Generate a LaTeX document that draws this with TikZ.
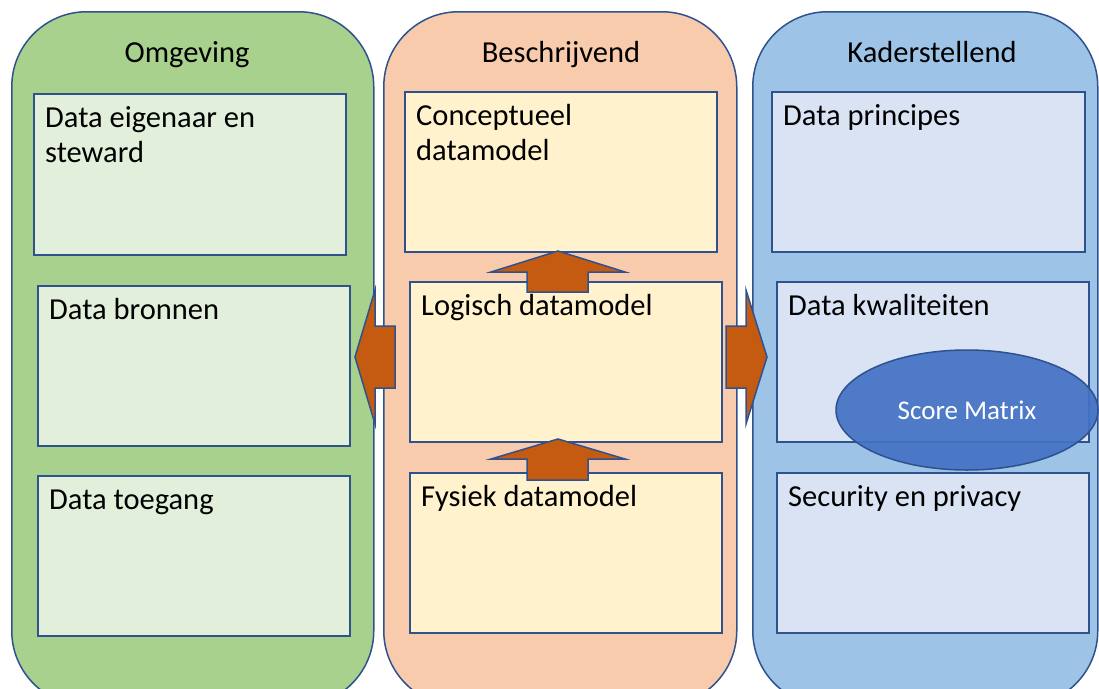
\documentclass[tikz,border=0pt]{standalone}
\usepackage{fontspec}
\setmainfont{Carlito}
\usetikzlibrary{shapes.geometric}
\definecolor{lijn}{HTML}{2F528F}
\definecolor{groenkolom}{HTML}{A9D18E}
\definecolor{groenvak}{HTML}{E2EFDA}
\definecolor{oranjekolom}{HTML}{F8CBAD}
\definecolor{geelvak}{HTML}{FFF2CC}
\definecolor{blauwkolom}{HTML}{9DC3E6}
\definecolor{blauwvak}{HTML}{DAE3F3}
\definecolor{pijlkleur}{HTML}{C55A11}
\definecolor{matrix}{HTML}{4472C4}
\tikzset{
  kolom/.style={draw=lijn,line width=1.5pt,rounded corners=75pt,anchor=north west,minimum height=694pt},
  vak/.style={draw=lijn,line width=1.5pt,anchor=north west,minimum width=312pt,minimum height=160pt},
  kop/.style={font=\fontsize{30.5}{35}\selectfont,anchor=base,inner sep=0pt},
  vaktekst/.style={font=\fontsize{30.5}{35}\selectfont,anchor=base west,inner sep=0pt,align=left},
  pijl/.style={fill=pijlkleur,draw=lijn,line width=1.5pt,line join=miter}
}
\begin{document}
\begin{tikzpicture}[x=1pt,y=-1pt]
\clip (0,0) rectangle (1099,688);
% kolommen
\node[kolom,fill=groenkolom,minimum width=362pt] (omg) at (11,11) {};
\node[kolom,fill=oranjekolom,minimum width=353pt] (bes) at (383,11) {};
\node[kolom,fill=blauwkolom,minimum width=345pt] (kad) at (752,11) {};
\node[kop] (komg) at (187,62) {Omgeving};
\node[kop] (kbes) at (561,62) {Beschrijvend};
\node[kop] (kkad) at (932,62) {Kaderstellend};
% vakken links
\node[vak,fill=groenvak,minimum height=161pt] (eig) at (33,93) {};
\node[vak,fill=groenvak] (bron) at (37,285) {};
\node[vak,fill=groenvak] (toe) at (37,475) {};
% vakken midden
\node[vak,fill=geelvak] (con) at (404,91) {};
\node[vak,fill=geelvak] (log) at (409,281) {};
\node[vak,fill=geelvak] (fys) at (409,472) {};
% vakken rechts
\node[vak,fill=blauwvak,minimum width=313pt] (pri) at (771,91) {};
\node[vak,fill=blauwvak] (kwa) at (776,281) {};
\node[vak,fill=blauwvak] (sec) at (776,472) {};
% teksten (bij twee regels ligt base op de laatste regel)
\node[vaktekst] (teig) at ([xshift=12pt,yshift=-69pt]eig.north west) {Data eigenaar en\\steward};
\node[vaktekst] (tbron) at ([xshift=12pt,yshift=-34pt]bron.north west) {Data bronnen};
\node[vaktekst] (ttoe) at ([xshift=12pt,yshift=-34pt]toe.north west) {Data toegang};
\node[vaktekst] (tcon) at ([xshift=12pt,yshift=-69pt]con.north west) {Conceptueel\\datamodel};
\node[vaktekst] (tlog) at ([xshift=12pt,yshift=-34pt]log.north west) {Logisch datamodel};
\node[vaktekst] (tfys) at ([xshift=12pt,yshift=-34pt]fys.north west) {Fysiek datamodel};
\node[vaktekst] (tpri) at ([xshift=12pt,yshift=-34pt]pri.north west) {Data principes};
\node[vaktekst] (tkwa) at ([xshift=12pt,yshift=-34pt]kwa.north west) {Data kwaliteiten};
\node[vaktekst] (tsec) at ([xshift=12pt,yshift=-34pt]sec.north west) {Security en privacy};
% pijlen
\draw[pijl] (527,292) -- (527,272) -- (491,272) -- (558,251) -- (625,272) -- (588,272) -- (588,292) -- cycle;
\draw[pijl] (527,480) -- (527,459) -- (491,459) -- (558,439) -- (625,459) -- (588,459) -- (588,480) -- cycle;
\draw[pijl] (395,326) -- (375,326) -- (375,290) -- (355,357) -- (375,424) -- (375,388) -- (395,388) -- cycle;
\draw[pijl] (726,326) -- (746,326) -- (746,290) -- (767,357) -- (746,424) -- (746,388) -- (726,388) -- cycle;
% score matrix
\node[ellipse,draw=lijn,line width=1.5pt,fill=matrix,fill opacity=0.92,text opacity=1,text=white,
  minimum width=262pt,minimum height=120pt,font=\fontsize{27}{31}\selectfont] (score) at (967,410) {Score Matrix};
\end{tikzpicture}
\end{document}
